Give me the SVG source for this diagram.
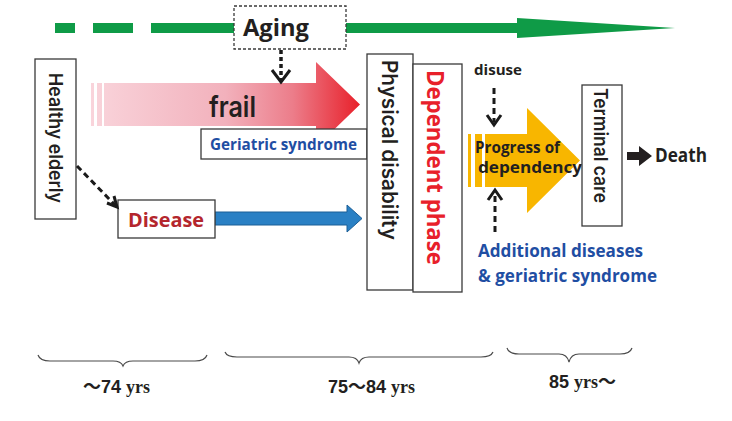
<svg xmlns="http://www.w3.org/2000/svg" width="732" height="421" viewBox="0 0 732 421">
<style>
.box{fill:#fff;stroke:#3a3a3a;stroke-width:1.3}
.t{font-family:"Open Sans","Liberation Sans",sans-serif;fill:#231f20}
.b{font-weight:700}
.m{font-family:Inter,"Open Sans","Liberation Sans",sans-serif;font-weight:600}
.blue{fill:#1f4ea3}
.brace{fill:none;stroke:#4a4a4a;stroke-width:1.2}
.age{font-family:"Liberation Sans","Noto Sans CJK JP",sans-serif;font-weight:700;font-size:18px;fill:#231f20}
.yrs{font-family:"Liberation Serif",serif;font-weight:700}
.dash{fill:none;stroke:#1a1a1a;stroke-width:3;stroke-dasharray:6 4}
.head{fill:none;stroke:#1a1a1a;stroke-width:3;stroke-linejoin:miter}
</style>
<defs>
<linearGradient id="frailGrad" gradientUnits="userSpaceOnUse" x1="91" y1="0" x2="360" y2="0">
<stop offset="0" stop-color="#f9d4db"/>
<stop offset="0.5" stop-color="#f2b1bc"/>
<stop offset="0.75" stop-color="#ec7d8a"/>
<stop offset="1" stop-color="#e8202a"/>
</linearGradient>
</defs>
<rect width="732" height="421" fill="#fff"/>

<g id="aging-timeline">
<rect x="55" y="23" width="20" height="10" fill="#0f9b47"/>
<rect x="93" y="23" width="40" height="10" fill="#0f9b47"/>
<polygon points="151,23 517,23 517,18 675,28 517,38 517,33 151,33" fill="#0f9b47"/>
</g>

<g id="frail">
<rect x="91" y="83" width="3" height="43" fill="url(#frailGrad)"/>
<rect x="97" y="83" width="5" height="43" fill="url(#frailGrad)"/>
<polygon points="104,83 316,83 316,62 360,104.5 316,147 316,126 104,126" fill="url(#frailGrad)"/>
<text class="t m" x="209" y="117" font-size="29" textLength="47" lengthAdjust="spacingAndGlyphs">frail</text>
</g>

<g id="disease-arrow">
<polygon points="215,212 347,212 347,205 362,218.5 347,232 347,225 215,225" fill="#2a80c4" stroke="#1b5e96" stroke-width="1"/>
</g>

<g id="progress">
<rect x="468" y="134" width="3" height="53" fill="#f8b600"/>
<rect x="475" y="134" width="7" height="53" fill="#f8b600"/>
<polygon points="485,134 527,134 527,108 580,160.5 527,213 527,187 485,187" fill="#f8b600"/>
<text class="t b" x="475" y="153" font-size="16" textLength="85" lengthAdjust="spacingAndGlyphs">Progress of</text>
<text class="t b" x="478" y="173" font-size="16" textLength="104" lengthAdjust="spacingAndGlyphs">dependency</text>
</g>

<g id="aging">
<rect class="box" x="234" y="6" width="112" height="43" stroke="#555" stroke-dasharray="3 2"/>
<text class="t b" x="243" y="36" font-size="24" textLength="66" lengthAdjust="spacingAndGlyphs">Aging</text>
</g>

<g id="geriatric-syndrome">
<rect class="box" x="201" y="129" width="166" height="30"/>
<text class="t b blue" x="210" y="150" font-size="16" textLength="147" lengthAdjust="spacingAndGlyphs">Geriatric syndrome</text>
</g>

<g id="healthy-elderly">
<rect class="box" x="35" y="59" width="41" height="160"/>
<text class="t m" transform="translate(49,138) rotate(90)" text-anchor="middle" font-size="19" textLength="130" lengthAdjust="spacingAndGlyphs">Healthy elderly</text>
</g>

<g id="disease">
<rect class="box" x="118" y="200" width="97" height="38"/>
<text class="t b" x="128" y="227" font-size="20" style="fill:#b4262d" textLength="76" lengthAdjust="spacingAndGlyphs">Disease</text>
</g>

<g id="physical-disability">
<rect class="box" x="367" y="54" width="46" height="236"/>
<text class="t m" transform="translate(382,150) rotate(90)" text-anchor="middle" font-size="21" textLength="180" lengthAdjust="spacingAndGlyphs">Physical disability</text>
</g>

<g id="dependent-phase">
<rect class="box" x="413" y="64" width="49" height="228"/>
<text class="t b" transform="translate(426.5,167.5) rotate(90)" text-anchor="middle" font-size="23" style="fill:#e8202a" textLength="195" lengthAdjust="spacingAndGlyphs">Dependent phase</text>
</g>

<g id="disuse">
<text class="t b" x="474" y="75" font-size="15" textLength="48" lengthAdjust="spacingAndGlyphs">disuse</text>
</g>

<g id="additional">
<text class="t b blue" x="478" y="257" font-size="18" textLength="165" lengthAdjust="spacingAndGlyphs">Additional diseases</text>
<text class="t b blue" x="478" y="282" font-size="18" textLength="179" lengthAdjust="spacingAndGlyphs">&amp; geriatric syndrome</text>
</g>

<g id="terminal-care">
<rect class="box" x="582" y="85" width="40" height="141"/>
<text class="t m" transform="translate(594,145.5) rotate(90)" text-anchor="middle" font-size="19" textLength="115" lengthAdjust="spacingAndGlyphs">Terminal care</text>
</g>

<g id="death">
<text class="t b" x="655" y="162" font-size="19" textLength="52" lengthAdjust="spacingAndGlyphs">Death</text>
</g>

<g id="connectors">
<line x1="281" y1="50" x2="281" y2="80" stroke="#1a1a1a" stroke-width="3.5" stroke-dasharray="4 3"/>
<polyline class="head" points="272,70 281,82 290,70" stroke-width="3.5"/>
<line class="dash" x1="77" y1="166" x2="115" y2="205" stroke-width="2.8"/>
<polyline class="head" points="107,203 117,207 114,196" stroke-width="2.8"/>
<line class="dash" x1="494" y1="88" x2="494" y2="122"/>
<polyline class="head" points="487,115 494,125 501,115"/>
<line class="dash" x1="495" y1="232" x2="495" y2="193"/>
<polyline class="head" points="488,200 495,190 502,200"/>
<polygon points="627,152 639,152 639,146 652,156 639,166 639,160 627,160" fill="#231f20"/>
</g>

<g id="age-ranges">
<path class="brace" d="M38,355 Q40,361 50,361 L113,361 Q121,361 123,366 Q125,361 133,361 L195,361 Q205,361 207,355"/>
<path class="brace" d="M225,352 Q227,357 237,357 L349,357 Q357,357 359,363 Q361,357 369,357 L481,357 Q491,357 493,352"/>
<path class="brace" d="M507,348 Q509,354 519,354 L559,354 Q567,354 569,362 Q571,354 579,354 L620,354 Q630,354 632,348"/>
<text class="age" x="83" y="393">～74 <tspan class="yrs">yrs</tspan></text>
<text class="age" x="328" y="393">75～84 <tspan class="yrs">yrs</tspan></text>
<text class="age" x="549" y="388">85 <tspan class="yrs">yrs</tspan>～</text>
</g>
</svg>
